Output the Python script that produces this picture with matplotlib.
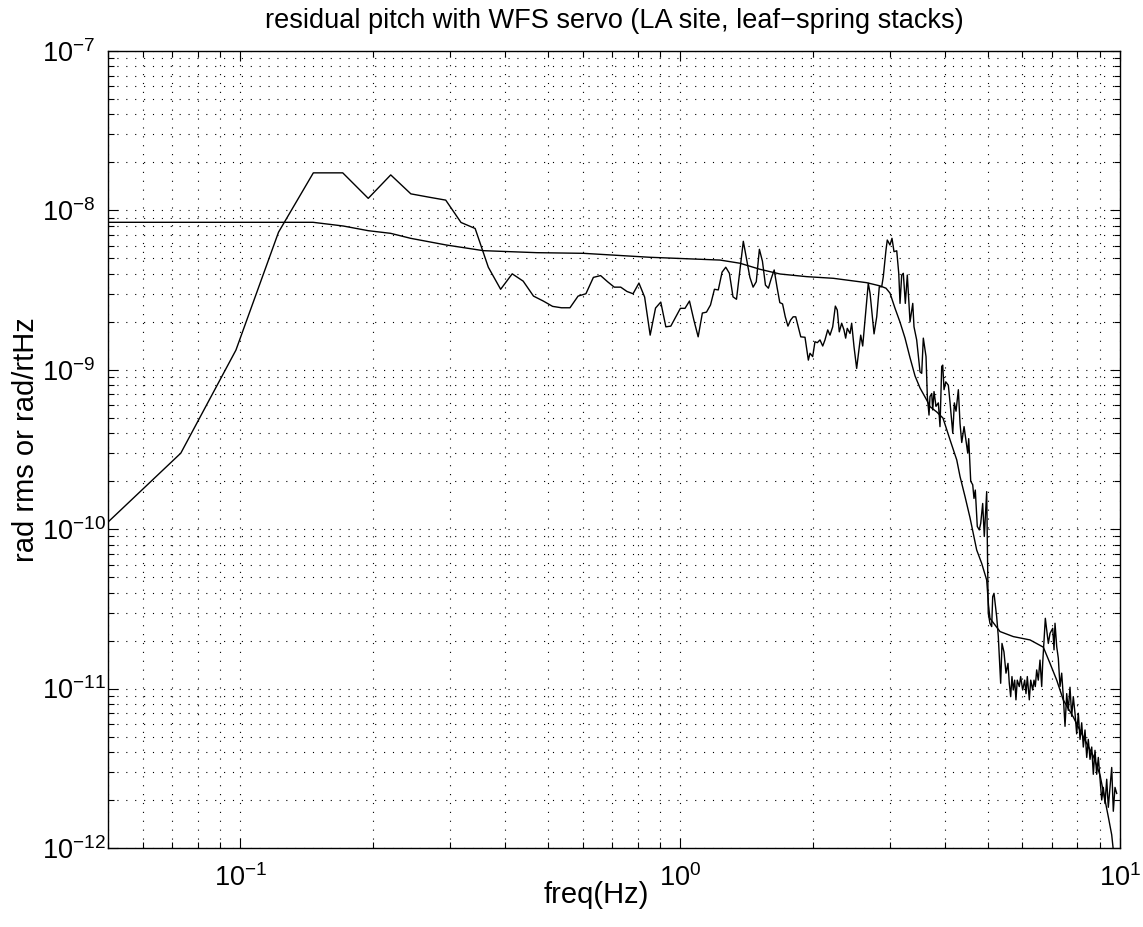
import numpy as np
import matplotlib
matplotlib.use("Agg")
import matplotlib.pyplot as plt
from matplotlib.ticker import LogLocator, NullFormatter, FixedLocator, FixedFormatter

plt.rcParams['font.family'] = ['Liberation Sans', 'DejaVu Sans']
plt.rcParams['mathtext.fontset'] = 'custom'
plt.rcParams['mathtext.rm'] = 'Liberation Sans'
plt.rcParams['mathtext.it'] = 'Liberation Sans:italic'
plt.rcParams['mathtext.bf'] = 'Liberation Sans:bold'

title = "residual pitch with WFS servo (LA site, leaf\u2212spring stacks)"
xlabel = "freq(Hz)"
ylabel = "rad rms or rad/rtHz"

# ---- noisy spectrum (rad/rtHz), low band ----
asd_freq_low = [0.0488, 0.0732, 0.0977, 0.1221, 0.1465, 0.1709, 0.1953, 0.2197, 0.2441, 0.2686,
                0.2930, 0.3174, 0.3418, 0.3662, 0.3906, 0.4150, 0.4395, 0.4639, 0.4883, 0.5127,
                0.5371, 0.5615, 0.5859, 0.6104, 0.6348, 0.6592, 0.6836, 0.7080, 0.7324, 0.7568,
                0.7813, 0.8057, 0.8301, 0.8545, 0.8789, 0.9033, 0.9277, 0.9521, 0.9766, 1.0010,
                1.0254, 1.0498, 1.0742, 1.0986, 1.1230, 1.1475, 1.1719, 1.1963, 1.2207, 1.2451,
                1.2695, 1.2939, 1.3184, 1.3428, 1.3672, 1.3916, 1.4160, 1.4404, 1.4648, 1.4893,
                1.5137, 1.5381, 1.5625, 1.5869, 1.6113, 1.6357, 1.6602, 1.6846, 1.7090, 1.7334,
                1.7578, 1.7822, 1.8066, 1.8311, 1.8555, 1.8799]
asd_val_low = [1.04e-10, 3.0e-10, 1.33e-9, 7.3e-9, 1.72e-8, 1.72e-8, 1.19e-8, 1.67e-8, 1.27e-8, 1.21e-8,
               1.16e-8, 8.4e-9, 7.7e-9, 4.4e-9, 3.2e-9, 4.0e-9, 3.6e-9, 2.9e-9, 2.7e-9, 2.5e-9,
               2.45e-9, 2.45e-9, 2.9e-9, 3.0e-9, 3.8e-9, 3.9e-9, 3.57e-9, 3.3e-9, 3.3e-9, 3.1e-9,
               3.0e-9, 3.5e-9, 2.86e-9, 1.65e-9, 2.44e-9, 2.66e-9, 1.86e-9, 1.88e-9, 2.14e-9, 2.43e-9,
               2.43e-9, 2.7e-9, 2.05e-9, 1.61e-9, 2.27e-9, 2.3e-9, 2.55e-9, 3.2e-9, 3.17e-9, 4.1e-9,
               4.4e-9, 4.03e-9, 2.87e-9, 2.77e-9, 4.2e-9, 6.4e-9, 4.9e-9, 3.8e-9, 3.3e-9, 3.57e-9,
               5.7e-9, 4.8e-9, 3.4e-9, 3.25e-9, 3.75e-9, 4.23e-9, 3.3e-9, 2.64e-9, 2.59e-9, 2.15e-9,
               1.88e-9, 2.05e-9, 2.15e-9, 2.15e-9, 1.86e-9, 1.61e-9]

# ---- mid band ----
asd_freq_mid = [1.922, 1.956, 1.973, 2.001, 2.025, 2.050, 2.079, 2.109, 2.134, 2.165,
                2.191, 2.222, 2.253, 2.276, 2.300, 2.329, 2.357, 2.378, 2.398, 2.433,
                2.454, 2.484, 2.519, 2.554, 2.573, 2.600, 2.632, 2.677, 2.702, 2.725,
                2.759, 2.798, 2.836, 2.872, 2.896, 2.937, 2.957, 2.999, 3.031, 3.063,
                3.107, 3.140, 3.161, 3.189, 3.216, 3.250, 3.284]
asd_val_mid = [1.6e-9, 1.15e-9, 1.27e-9, 1.21e-9, 1.5e-9, 1.48e-9, 1.54e-9, 1.41e-9, 1.54e-9, 1.78e-9,
               1.65e-9, 1.86e-9, 2.51e-9, 2.37e-9, 1.73e-9, 1.96e-9, 1.78e-9, 1.58e-9, 1.82e-9, 1.69e-9,
               1.96e-9, 1.40e-9, 1.02e-9, 1.40e-9, 1.65e-9, 1.41e-9, 2.05e-9, 3.49e-9, 3.02e-9, 2.37e-9,
               1.68e-9, 2.15e-9, 3.32e-9, 3.32e-9, 3.84e-9, 5.64e-9, 6.52e-9, 6.07e-9, 6.68e-9, 5.51e-9,
               5.58e-9, 4.03e-9, 2.61e-9, 3.93e-9, 4.03e-9, 2.61e-9, 3.93e-9]

# ---- high band ----
asd_freq_high = [3.331, 3.379, 3.401, 3.449, 3.510, 3.541, 3.571, 3.622, 3.647, 3.679,
                 3.698, 3.732, 3.751, 3.777, 3.816, 3.863, 3.897, 3.932, 3.953, 3.980,
                 4.016, 4.071, 4.108, 4.166, 4.201, 4.238, 4.290, 4.328, 4.367, 4.420,
                 4.466, 4.506, 4.529, 4.577, 4.625, 4.656, 4.688, 4.737, 4.787, 4.823,
                 4.873, 4.914, 4.976, 5.017, 5.062, 5.108, 5.135, 5.170, 5.206, 5.243,
                 5.288, 5.354, 5.391, 5.447, 5.505, 5.563, 5.601, 5.642, 5.680, 5.719,
                 5.761, 5.800, 5.840, 5.902, 5.945, 6.008, 6.071, 6.113, 6.155, 6.220,
                 6.266, 6.331, 6.375, 6.418, 6.465, 6.519, 6.578, 6.637, 6.671, 6.718,
                 6.764, 6.813, 6.871, 6.932, 7.031, 7.079, 7.116, 7.180, 7.240, 7.305,
                 7.369, 7.432, 7.499, 7.565, 7.629, 7.697, 7.766, 7.831, 7.901, 7.971,
                 8.039, 8.111, 8.183, 8.253, 8.326, 8.401, 8.471, 8.547, 8.624, 8.696,
                 8.773, 8.851, 8.927, 9.006, 9.087, 9.162, 9.245, 9.328, 9.406, 9.490,
                 9.575, 9.656, 9.741, 9.829]
asd_val_high = [2.0e-9, 2.61e-9, 1.86e-9, 1.54e-9, 9.7e-10, 9.5e-10, 1.58e-9, 1.21e-9, 6.8e-10, 5.2e-10,
                6.8e-10, 7.1e-10, 5.6e-10, 7.3e-10, 5.9e-10, 6.2e-10, 4.4e-10, 1.05e-9, 1.07e-9, 7.5e-10,
                8.4e-10, 8.0e-10, 6.2e-10, 4.0e-10, 6.2e-10, 5.5e-10, 7.5e-10, 4.6e-10, 3.5e-10, 4.4e-10,
                3.6e-10, 3.0e-10, 3.7e-10, 2.0e-10, 1.9e-10, 1.56e-10, 1.76e-10, 1.04e-10, 9.9e-11, 1.09e-10,
                1.45e-10, 9.0e-11, 1.72e-10, 2.97e-11, 2.57e-11, 2.45e-11, 3.77e-11, 3.96e-11, 3.35e-11, 2.83e-11,
                2.12e-11, 1.08e-11, 1.92e-11, 1.70e-11, 1.25e-11, 1.44e-11, 1.08e-11, 8.9e-12, 1.19e-11, 9.8e-12,
                1.13e-11, 8.5e-12, 1.13e-11, 1.03e-11, 1.19e-11, 9.8e-12, 1.13e-11, 9.3e-12, 1.19e-11, 8.5e-12,
                1.13e-11, 9.8e-12, 1.13e-11, 1.03e-11, 1.31e-11, 1.13e-11, 1.51e-11, 1.03e-11, 1.44e-11, 2.02e-11,
                2.76e-11, 2.33e-11, 1.92e-11, 2.22e-11, 2.39e-11, 1.75e-11, 2.57e-11, 1.83e-11, 1.55e-11, 1.03e-11,
                1.25e-11, 8.9e-12, 5.8e-12, 9.3e-12, 7.3e-12, 1.02e-11, 6.7e-12, 8.9e-12, 7.0e-12, 5.2e-12,
                7.0e-12, 4.8e-12, 6.1e-12, 4.3e-12, 5.5e-12, 3.7e-12, 4.8e-12, 3.6e-12, 4.3e-12, 2.9e-12,
                4.1e-12, 2.9e-12, 3.7e-12, 2.7e-12, 2.0e-12, 2.4e-12, 1.9e-12, 2.7e-12, 1.8e-12, 2.4e-12,
                3.2e-12, 1.7e-12, 2.4e-12, 2.2e-12]

# ---- cumulative rms (rad rms) ----
rms_freq = [0.0488, 0.1463, 0.1714, 0.1953, 0.2196, 0.2439, 0.2935, 0.3567, 0.4718, 0.6020,
            0.8537, 1.232, 1.368, 1.519, 1.687, 1.940, 2.229, 2.655, 2.847, 2.937,
            2.999, 3.078, 3.161, 3.245, 3.331, 3.420, 3.510, 3.635, 3.698, 3.831,
            3.958, 4.108, 4.254, 4.328, 4.443, 4.560, 4.722, 4.847, 4.976, 5.023,
            5.062, 5.335, 5.719, 6.243, 6.693, 6.932, 7.180, 7.432, 7.831, 8.253,
            8.696, 9.006, 9.245, 9.406, 9.575, 9.656]
rms_val = [8.42e-9, 8.42e-9, 7.98e-9, 7.46e-9, 7.18e-9, 6.68e-9, 6.07e-9, 5.59e-9, 5.43e-9, 5.38e-9,
           5.08e-9, 4.88e-9, 4.66e-9, 4.27e-9, 3.99e-9, 3.84e-9, 3.75e-9, 3.52e-9, 3.36e-9, 3.25e-9,
           3.03e-9, 2.44e-9, 1.99e-9, 1.58e-9, 1.19e-9, 9.14e-10, 7.69e-10, 6.46e-10, 5.87e-10, 5.44e-10,
           4.98e-10, 3.63e-10, 2.72e-10, 2.14e-10, 1.60e-10, 1.18e-10, 7.41e-11, 6.11e-11, 4.80e-11, 3.35e-11,
           2.76e-11, 2.28e-11, 2.12e-11, 2.02e-11, 1.82e-11, 1.44e-11, 1.13e-11, 8.48e-12, 6.63e-12, 4.97e-12,
           3.78e-12, 2.87e-12, 2.0e-12, 1.57e-12, 1.21e-12, 0.97e-12]

xticks = [0.1, 1, 10]
xticklabels = [r'$\mathregular{10^{-1}}$', r'$\mathregular{10^{0}}$', r'$\mathregular{10^{1}}$']
yticks = [1e-12, 1e-11, 1e-10, 1e-9, 1e-8, 1e-7]
yticklabels = [r'$\mathregular{10^{-12}}$', r'$\mathregular{10^{-11}}$', r'$\mathregular{10^{-10}}$',
               r'$\mathregular{10^{-9}}$', r'$\mathregular{10^{-8}}$', r'$\mathregular{10^{-7}}$']

asd_freq = asd_freq_low + asd_freq_mid + asd_freq_high
asd_val = asd_val_low + asd_val_mid + asd_val_high

W, H = 1143, 927
fig = plt.figure(figsize=(W / 100, H / 100), dpi=100)
L, R, T, B = 108, 1120, 51, 848
ax = fig.add_axes([L / W, 1 - B / H, (R - L) / W, (B - T) / H])

ax.plot(asd_freq, asd_val, color='k', lw=1.0)
ax.plot(rms_freq, rms_val, color='k', lw=1.0)

ax.set_xscale('log')
ax.set_yscale('log')
ax.set_xlim(0.05, 10)
ax.set_ylim(1e-12, 1e-7)

ax.xaxis.set_major_locator(FixedLocator(xticks))
ax.xaxis.set_major_formatter(FixedFormatter(xticklabels))
ax.yaxis.set_major_locator(FixedLocator(yticks))
ax.yaxis.set_major_formatter(FixedFormatter(yticklabels))
ax.xaxis.set_minor_locator(LogLocator(base=10, subs=np.arange(2, 10), numticks=50))
ax.yaxis.set_minor_locator(LogLocator(base=10, subs=np.arange(2, 10), numticks=50))
ax.xaxis.set_minor_formatter(NullFormatter())
ax.yaxis.set_minor_formatter(NullFormatter())

ax.grid(True, which='both', color='k', linestyle=(0, (1, 7)), linewidth=0.8)
ax.tick_params(which='both', direction='in', top=True, right=True, width=0.8)
ax.tick_params(which='major', length=7)
ax.tick_params(which='minor', length=4)
ax.tick_params(axis='x', which='major', labelsize=19.5, pad=12)
ax.tick_params(axis='y', which='major', labelsize=19.5, pad=(L - 42) * 0.72)
plt.setp(ax.get_yticklabels(), ha='left')
for s in ax.spines.values():
    s.set_linewidth(1.0)

ax.set_title(title, fontsize=19.5, y=(B - 21) / (B - T), va='center', pad=0)
ax.set_xlabel(xlabel, fontsize=21)
ax.xaxis.label.set_va('center')
ax.xaxis.set_label_coords((596 - L) / (R - L), (B - 895) / (B - T))
ax.set_ylabel(ylabel, fontsize=21)
ax.yaxis.label.set_va('center')
ax.yaxis.set_label_coords((26 - L) / (R - L), (B - 440) / (B - T))

fig.savefig('out.png', dpi=100)
